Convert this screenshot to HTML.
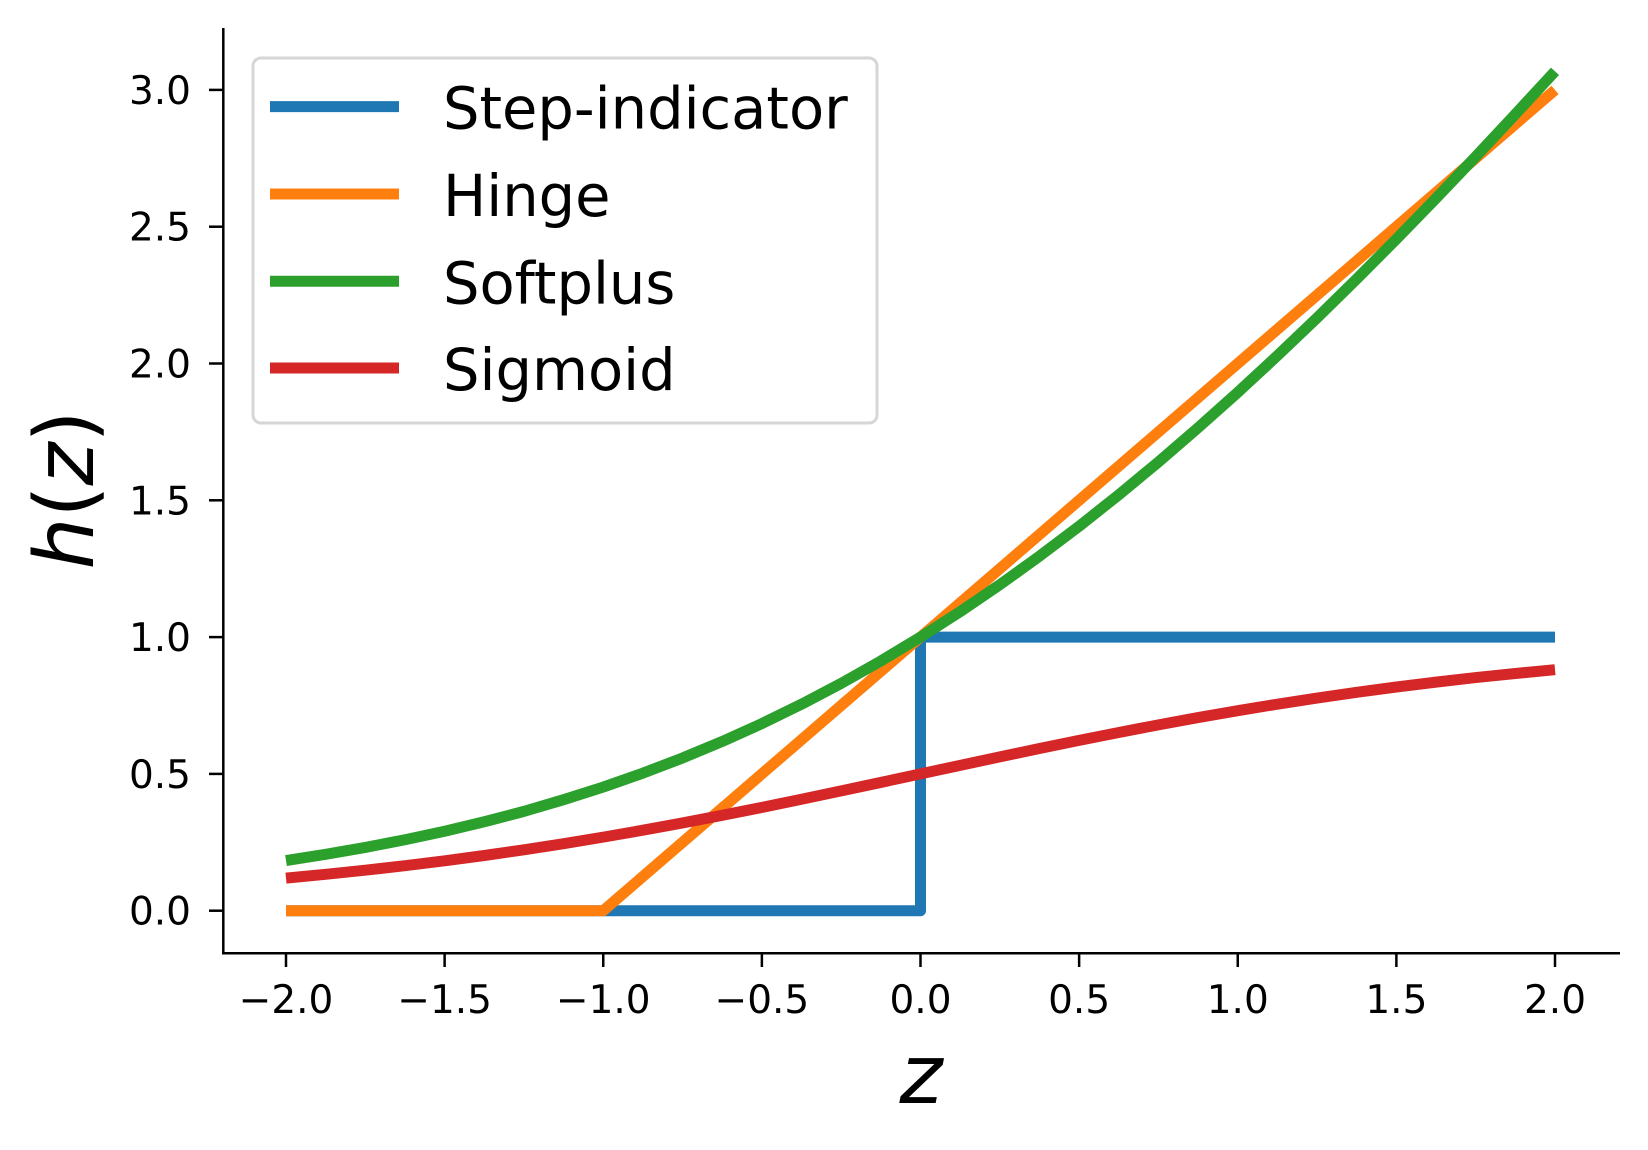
<!DOCTYPE html>
<html><head><meta charset="utf-8"><style>
html,body{margin:0;padding:0;background:#fff;}
svg{display:block;font-family:"DejaVu Sans","Liberation Sans",sans-serif;}
</style></head><body>
<svg id="chart" width="1648" height="1150" viewBox="0 0 1648 1150">
<line x1="223.3" y1="28" x2="223.3" y2="954.5" stroke="#000" stroke-width="2.5"/>
<line x1="222" y1="953.3" x2="1620" y2="953.3" stroke="#000" stroke-width="2.5"/>
<g id="xticks"></g>
<g id="yticks"></g>
<g id="series"></g>
<text x="921" y="1103" font-size="82" font-style="italic" text-anchor="middle">z</text>
<text transform="translate(93,490) rotate(-90)" font-size="82" text-anchor="middle"><tspan font-style="italic">h</tspan>(<tspan font-style="italic">z</tspan>)</text>
<g id="legend">
<rect x="253" y="58" width="624" height="365" rx="8" fill="#fff" fill-opacity="0.8" stroke="#d6d6d6" stroke-width="3"/>
</g>
</svg>
<script>
const xTicks = [-2.0,-1.5,-1.0,-0.5,0.0,0.5,1.0,1.5,2.0];
const xTickLabels = ["\u22122.0","\u22121.5","\u22121.0","\u22120.5","0.0","0.5","1.0","1.5","2.0"];
const yTicks = [0.0,0.5,1.0,1.5,2.0,2.5,3.0];
const yTickLabels = ["0.0","0.5","1.0","1.5","2.0","2.5","3.0"];
const seriesNames = ["Step-indicator","Hinge","Softplus","Sigmoid"];
const stepZ = [-2,0,0,2];
const stepV = [0,0,1,1];
const hingeZ = [-2,-1,2];
const hingeV = [0,0,3];
const curveZ = [-2,-1.875,-1.75,-1.625,-1.5,-1.375,-1.25,-1.125,-1,-0.875,-0.75,-0.625,-0.5,-0.375,-0.25,-0.125,0,0.125,0.25,0.375,0.5,0.625,0.75,0.875,1,1.125,1.25,1.375,1.5,1.625,1.75,1.875,2];
const softplusV = [0.1831,0.2059,0.2312,0.2593,0.2906,0.3251,0.3630,0.4057,0.4519,0.5028,0.5582,0.6185,0.6839,0.7547,0.8309,0.9127,1.0,1.0930,1.1915,1.2958,1.4051,1.5202,1.640,1.7651,1.8946,2.0287,2.1667,2.3090,2.4547,2.6038,2.7559,2.9110,3.0680];
const sigmoidV = [0.1192,0.1330,0.1480,0.1645,0.1824,0.2018,0.2227,0.2451,0.2689,0.2942,0.3208,0.3486,0.3775,0.4073,0.4378,0.4688,0.5,0.5312,0.5622,0.5927,0.6225,0.6514,0.6792,0.7058,0.7311,0.7549,0.7773,0.7982,0.8176,0.8355,0.8520,0.8670,0.8808];

const NS = "http://www.w3.org/2000/svg";
const X0 = 286, XU = 317.25, Y0 = 910.7, YU = 273.6;
function xs(v){return X0 + (v + 2) * XU;}
function ys(v){return Y0 - v * YU;}
function mk(tag, attrs, parent){const e=document.createElementNS(NS,tag);for(const k in attrs)e.setAttribute(k,attrs[k]);parent.appendChild(e);return e;}

const xg = document.getElementById('xticks');
xTicks.forEach((t,i)=>{
  const l = mk('line',{x1:xs(t),x2:xs(t),y1:953,y2:967,stroke:'#000','stroke-width':2.5},xg);
  
  
  const tx = mk('text',{x:xs(t),y:1013,'font-size':39,'text-anchor':'middle'},xg);
  tx.textContent = xTickLabels[i];
  
  
});
const yg = document.getElementById('yticks');
yTicks.forEach((t,i)=>{
  const l = mk('line',{x1:209,x2:223,y1:ys(t),y2:ys(t),stroke:'#000','stroke-width':2.5},yg);
  
  
  const tx = mk('text',{x:191,y:ys(t)+14,'font-size':39,'text-anchor':'end'},yg);
  tx.textContent = yTickLabels[i];
  
  
});

const colors = ['#1f77b4','#ff7f0e','#2ca02c','#d62728'];
const data = [[stepZ,stepV],[hingeZ,hingeV],[curveZ,softplusV],[curveZ,sigmoidV]];
const sg = document.getElementById('series');
data.forEach((d,i)=>{
  const pts = d[0].map((z,j)=>xs(z).toFixed(2)+','+ys(d[1][j]).toFixed(2)).join(' ');
  const p = mk('polyline',{points:pts,fill:'none',stroke:colors[i],'stroke-width':11,'stroke-linejoin':'round','stroke-linecap':'butt'},sg);
  
  
});

const lg = document.getElementById('legend');
const ly = [106.6,194,281.3,368];
seriesNames.forEach((n,i)=>{
  const l = mk('line',{x1:270,x2:399,y1:ly[i],y2:ly[i],stroke:colors[i],'stroke-width':11},lg);
  
  
  const t = mk('text',{x:443,y:ly[i]+22,'font-size':57.5},lg);
  t.textContent = n;
  
  
});
</script>
</body></html>
